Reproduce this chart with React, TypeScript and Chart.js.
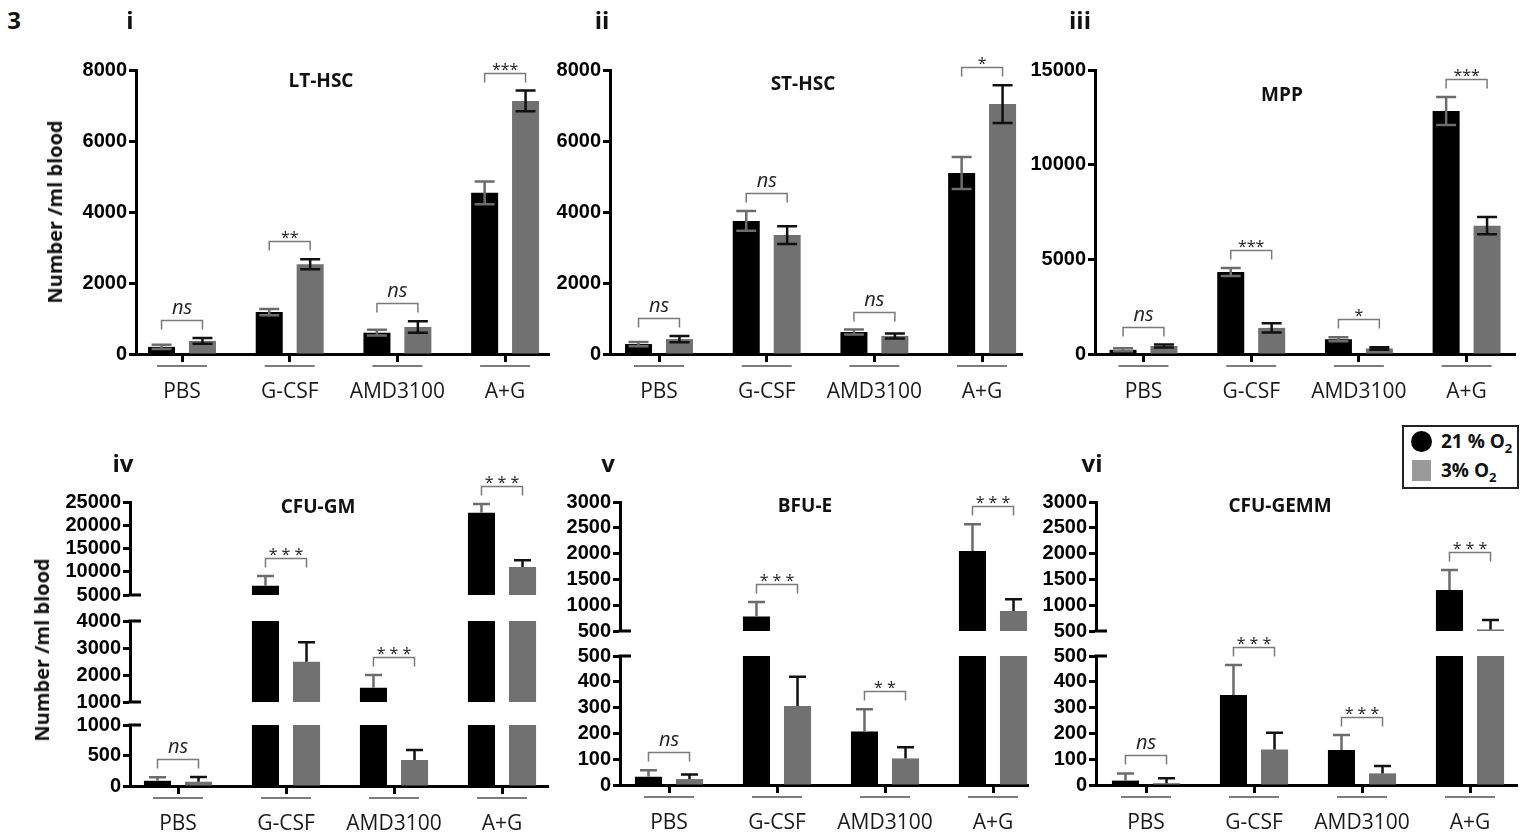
import React, { useEffect, useRef } from 'react';
import { Chart, registerables } from 'chart.js';

Chart.register(...registerables);

// ---------- DATA ----------
const categories = ['PBS', 'G-CSF', 'AMD3100', 'A+G'];
const seriesNames = ['21 % O₂', '3% O₂'];

// i  LT-HSC
const ltHsc21 = [200, 1180, 600, 4540];
const ltHsc21Err = [60, 90, 80, 320];
const ltHsc3 = [370, 2530, 760, 7130];
const ltHsc3Err = [80, 140, 160, 290];
const ltHscSig = ['ns', '**', 'ns', '***'];

// ii  ST-HSC
const stHsc21 = [280, 3750, 620, 5100];
const stHsc21Err = [60, 280, 70, 450];
const stHsc3 = [420, 3350, 510, 7040];
const stHsc3Err = [90, 250, 70, 530];
const stHscSig = ['ns', 'ns', 'ns', '*'];

// iii  MPP
const mpp21 = [220, 4330, 780, 12840];
const mpp21Err = [80, 210, 110, 740];
const mpp3 = [420, 1380, 290, 6780];
const mpp3Err = [80, 250, 70, 450];
const mppSig = ['ns', '***', '*', '***'];

// iv  CFU-GM
const cfuGm21 = [85, 7000, 1530, 22700];
const cfuGm21Err = [60, 2100, 470, 1870];
const cfuGm3 = [70, 2490, 426, 11000];
const cfuGm3Err = [78, 720, 165, 1500];
const cfuGmSig = ['ns', '* * *', '* * *', '* * *'];

// v  BFU-E
const bfuE21 = [32, 780, 207, 2050];
const bfuE21Err = [25, 280, 87, 520];
const bfuE3 = [23, 306, 103, 890];
const bfuE3Err = [18, 114, 43, 225];
const bfuESig = ['ns', '* * *', '* *', '* * *'];

// vi  CFU-GEMM
const cfuGemm21 = [17, 349, 136, 1295];
const cfuGemm21Err = [28, 116, 58, 387];
const cfuGemm3 = [7, 138, 45, 530];
const cfuGemm3Err = [19, 65, 29, 183];
const cfuGemmSig = ['ns', '* * *', '* * *', '* * *'];

// tick labels
const hscTicks = [0, 2000, 4000, 6000, 8000];
const mppTicks = [0, 5000, 10000, 15000];
const gmTicksLow = [0, 500, 1000];
const gmTicksMid = [1000, 2000, 3000, 4000];
const gmTicksHigh = [5000, 10000, 15000, 20000, 25000];
const smallTicksLow = [0, 100, 200, 300, 400, 500];
const smallTicksHigh = [500, 1000, 1500, 2000, 2500, 3000];

// ---------- STYLE / LAYOUT ----------
const BLACK = '#000000';
const GRAY = '#717171';
const ERR_ON_BLACK = '#6c6c6c';
const ERR_ON_GRAY = '#111111';
const BRACKET = '#7a7a7a';
const TICK_FONT = { family: "'Liberation Sans', Arial, sans-serif", weight: 'bold' as const, size: 20, lineHeight: 1 };
const CAT_FONT = { family: "'Open Sans', sans-serif", size: 21, weight: 'normal' as const, lineHeight: 1.2 };

const YW = 80;
const XH = 70;
const PAD_T = 60;
const PAD_R = 6;
const PAD_B = 16;

type Seg = { ticks: number[]; top: number; bottom: number };
type PanelSpec = {
  id: string;
  title: string;
  black: number[];
  blackErr: number[];
  gray: number[];
  grayErr: number[];
  sig: string[];
  twoSided: boolean;
  capW: number;
  axisX: number;
  xEnd: number;
  firstTick: number;
  spacing: number;
  segs: Seg[];
  titleX: number;
  titleY: number;
};

const panels: PanelSpec[] = [
  {
    id: 'i', title: 'LT-HSC', black: ltHsc21, blackErr: ltHsc21Err, gray: ltHsc3, grayErr: ltHsc3Err, sig: ltHscSig,
    twoSided: true, capW: 20, axisX: 136, xEnd: 549, firstTick: 182, spacing: 107.7,
    segs: [{ ticks: hscTicks, top: 70, bottom: 354 }], titleX: 321, titleY: 82,
  },
  {
    id: 'ii', title: 'ST-HSC', black: stHsc21, blackErr: stHsc21Err, gray: stHsc3, grayErr: stHsc3Err, sig: stHscSig,
    twoSided: true, capW: 20, axisX: 610, xEnd: 1022, firstTick: 659, spacing: 107.7,
    segs: [{ ticks: hscTicks, top: 70, bottom: 354 }], titleX: 803, titleY: 85,
  },
  {
    id: 'iii', title: 'MPP', black: mpp21, blackErr: mpp21Err, gray: mpp3, grayErr: mpp3Err, sig: mppSig,
    twoSided: true, capW: 20, axisX: 1095, xEnd: 1515, firstTick: 1143.5, spacing: 107.7,
    segs: [{ ticks: mppTicks, top: 70, bottom: 354 }], titleX: 1282, titleY: 96,
  },
  {
    id: 'iv', title: 'CFU-GM', black: cfuGm21, blackErr: cfuGm21Err, gray: cfuGm3, grayErr: cfuGm3Err, sig: cfuGmSig,
    twoSided: false, capW: 17, axisX: 130, xEnd: 548, firstTick: 178, spacing: 108,
    segs: [
      { ticks: gmTicksLow, top: 725, bottom: 786 },
      { ticks: gmTicksMid, top: 621, bottom: 702 },
      { ticks: gmTicksHigh, top: 502, bottom: 595 },
    ],
    titleX: 318, titleY: 508,
  },
  {
    id: 'v', title: 'BFU-E', black: bfuE21, blackErr: bfuE21Err, gray: bfuE3, grayErr: bfuE3Err, sig: bfuESig,
    twoSided: false, capW: 17, axisX: 620, xEnd: 1028, firstTick: 669, spacing: 108,
    segs: [
      { ticks: smallTicksLow, top: 656, bottom: 785 },
      { ticks: smallTicksHigh, top: 502, bottom: 631 },
    ],
    titleX: 805, titleY: 507,
  },
  {
    id: 'vi', title: 'CFU-GEMM', black: cfuGemm21, blackErr: cfuGemm21Err, gray: cfuGemm3, grayErr: cfuGemm3Err, sig: cfuGemmSig,
    twoSided: false, capW: 17, axisX: 1096, xEnd: 1517, firstTick: 1146, spacing: 108,
    segs: [
      { ticks: smallTicksLow, top: 656, bottom: 785 },
      { ticks: smallTicksHigh, top: 502, bottom: 631 },
    ],
    titleX: 1280, titleY: 507,
  },
];

const numerals = [
  { text: '3', x: 14, y: 20 },
  { text: 'i', x: 130, y: 20 },
  { text: 'ii', x: 602, y: 20 },
  { text: 'iii', x: 1080, y: 20 },
  { text: 'iv', x: 123, y: 463 },
  { text: 'v', x: 608, y: 463 },
  { text: 'vi', x: 1092, y: 463 },
];

const yTitles = [
  { x: 55, y: 212 },
  { x: 42, y: 650 },
];

// ---------- CHART ----------
function SegmentChart({ p, k }: { p: PanelSpec; k: number }) {
  const ref = useRef<HTMLCanvasElement>(null);
  const seg = p.segs[k];
  const isBottom = k === 0;
  const isTop = k === p.segs.length - 1;
  const left = p.axisX - YW;
  const top = seg.top - PAD_T;
  const width = Math.round(p.xEnd - left + PAD_R);
  const height = Math.round(seg.bottom - top + (isBottom ? XH : PAD_B));

  useEffect(() => {
    const canvas = ref.current;
    if (!canvas) return;
    const xMin = -(p.firstTick - p.axisX) / p.spacing;
    const xMax = (p.xEnd - p.firstTick) / p.spacing;
    const toPts = (vals: number[]) => vals.map((v, i) => ({ x: i, y: v }));
    const errSets = [
      { vals: p.black, errs: p.blackErr, color: ERR_ON_BLACK },
      { vals: p.gray, errs: p.grayErr, color: ERR_ON_GRAY },
    ];

    const errorBars = {
      id: 'errorBars',
      afterDatasetsDraw(chart: any) {
        const { ctx, chartArea: a } = chart;
        const ys = chart.scales.y;
        ctx.save();
        ctx.beginPath();
        ctx.rect(a.left, a.top - 1, a.right - a.left, a.bottom - a.top + 1);
        ctx.clip();
        errSets.forEach((s, di) => {
          const meta = chart.getDatasetMeta(di);
          meta.data.forEach((bar: any, i: number) => {
            const v = s.vals[i];
            const e = s.errs[i];
            const x = bar.x;
            const yTop = ys.getPixelForValue(v + e);
            const yBot = p.twoSided ? ys.getPixelForValue(v - e) : ys.getPixelForValue(v);
            ctx.strokeStyle = s.color;
            ctx.lineWidth = 2.5;
            ctx.beginPath();
            ctx.moveTo(x, yBot);
            ctx.lineTo(x, yTop);
            ctx.moveTo(x - p.capW / 2, yTop);
            ctx.lineTo(x + p.capW / 2, yTop);
            if (p.twoSided) {
              ctx.moveTo(x - p.capW / 2, yBot);
              ctx.lineTo(x + p.capW / 2, yBot);
            }
            ctx.stroke();
          });
        });
        ctx.restore();
      },
    };

    const annotations = {
      id: 'annotations',
      afterDraw(chart: any) {
        const { ctx, chartArea: a } = chart;
        const xs = chart.scales.x;
        const ys = chart.scales.y;
        ctx.save();
        // axis-break caps
        ctx.strokeStyle = '#000';
        ctx.lineWidth = 3;
        if (!isBottom) {
          ctx.beginPath();
          ctx.moveTo(a.left - 1.5, a.bottom);
          ctx.lineTo(a.left + 11, a.bottom);
          ctx.stroke();
        }
        if (!isTop) {
          ctx.beginPath();
          ctx.moveTo(a.left - 1.5, a.top);
          ctx.lineTo(a.left + 11, a.top);
          ctx.stroke();
        }
        // group underlines
        if (isBottom) {
          ctx.strokeStyle = '#7d7d7d';
          ctx.lineWidth = 2;
          categories.forEach((_, i) => {
            const px = xs.getPixelForValue(i);
            ctx.beginPath();
            ctx.moveTo(px - 25, a.bottom + 12);
            ctx.lineTo(px + 25, a.bottom + 12);
            ctx.stroke();
          });
        }
        // title
        if (isTop) {
          ctx.fillStyle = '#111';
          ctx.font = "bold 19px 'Open Sans', sans-serif";
          ctx.textAlign = 'center';
          ctx.textBaseline = 'middle';
          ctx.fillText(p.title, p.titleX - left, p.titleY - top);
        }
        // significance brackets
        const m0 = chart.getDatasetMeta(0);
        const m1 = chart.getDatasetMeta(1);
        categories.forEach((_, i) => {
          const t = Math.max(p.black[i] + p.blackErr[i], p.gray[i] + p.grayErr[i]);
          let sk = 0;
          p.segs.forEach((s, j) => {
            if (t >= s.ticks[0]) sk = j;
          });
          if (sk !== k) return;
          const yl = Math.round(ys.getPixelForValue(t) - 18) + 0.5;
          const x0 = m0.data[i].x;
          const x1 = m1.data[i].x;
          ctx.strokeStyle = BRACKET;
          ctx.lineWidth = 1.5;
          ctx.beginPath();
          ctx.moveTo(x0, yl + 9);
          ctx.lineTo(x0, yl);
          ctx.lineTo(x1, yl);
          ctx.lineTo(x1, yl + 9);
          ctx.stroke();
          ctx.fillStyle = '#222';
          ctx.textAlign = 'center';
          ctx.textBaseline = 'alphabetic';
          const label = p.sig[i];
          if (label === 'ns') {
            ctx.font = "italic 20px 'Open Sans', sans-serif";
            ctx.fillText(label, (x0 + x1) / 2, yl - 7);
          } else {
            ctx.font = "16px 'Open Sans', sans-serif";
            ctx.fillText(label, (x0 + x1) / 2, yl + 1);
          }
        });
        ctx.restore();
      },
    };

    const chart = new Chart(canvas, {
      type: 'bar',
      data: {
        datasets: [
          { label: seriesNames[0], data: toPts(p.black) as any, backgroundColor: BLACK },
          { label: seriesNames[1], data: toPts(p.gray) as any, backgroundColor: GRAY },
        ],
      },
      options: {
        animation: false,
        responsive: false,
        devicePixelRatio: 1,
        events: [],
        layout: { padding: { left: 0, right: PAD_R, top: PAD_T, bottom: isBottom ? 0 : PAD_B } },
        datasets: { bar: { clip: 0 as any, categoryPercentage: 0.76, barPercentage: 0.66, borderWidth: 0 } },
        plugins: { legend: { display: false }, tooltip: { enabled: false }, title: { display: false } },
        scales: {
          x: {
            type: 'linear',
            min: xMin,
            max: xMax,
            offset: false,
            display: isBottom,
            afterBuildTicks: (s: any) => {
              s.ticks = categories.map((_, i) => ({ value: i }));
            },
            afterFit: (s: any) => {
              s.height = isBottom ? XH : 0;
            },
            grid: {
              display: true,
              offset: false,
              drawOnChartArea: false,
              drawTicks: true,
              tickLength: 8,
              tickWidth: 3,
              tickColor: '#000',
              color: '#000',
            },
            border: { display: true, color: '#000', width: 3 },
            ticks: {
              autoSkip: false,
              maxRotation: 0,
              minRotation: 0,
              padding: 17,
              color: '#1a1a1a',
              font: CAT_FONT,
              callback: (v: any) => categories[Math.round(Number(v))] ?? '',
            },
          } as any,
          y: {
            type: 'linear',
            min: seg.ticks[0],
            max: seg.ticks[seg.ticks.length - 1],
            beginAtZero: false,
            afterBuildTicks: (s: any) => {
              s.ticks = seg.ticks.map((v) => ({ value: v }));
            },
            afterFit: (s: any) => {
              s.width = YW;
            },
            grid: {
              display: true,
              drawOnChartArea: false,
              drawTicks: true,
              tickLength: 7,
              tickWidth: 3,
              tickColor: '#000',
              color: '#000',
            },
            border: { display: true, color: '#000', width: 3 },
            ticks: {
              autoSkip: false,
              padding: 2,
              color: '#000',
              font: TICK_FONT,
              callback: (v: any) => String(v),
            },
          } as any,
        },
      },
      plugins: [errorBars, annotations],
    });
    return () => chart.destroy();
  }, []);

  return (
    <canvas
      ref={ref}
      width={width}
      height={height}
      style={{ position: 'absolute', left, top, width, height }}
    />
  );
}

function Legend() {
  const base = { position: 'absolute' as const };
  const textStyle = {
    ...base,
    left: 37,
    font: "bold 19px 'Open Sans', sans-serif",
    color: '#111',
    whiteSpace: 'nowrap' as const,
    lineHeight: '22px',
  };
  const subStyle = { fontSize: 13, verticalAlign: -5, lineHeight: 0 } as any;
  return (
    <div
      style={{
        ...base,
        left: 1402,
        top: 425,
        width: 117,
        height: 64,
        border: '2px solid #222',
        boxSizing: 'border-box',
        background: '#fff',
      }}
    >
      <div style={{ ...base, left: 7, top: 4, width: 21, height: 21, borderRadius: '50%', background: BLACK }} />
      <div style={{ ...textStyle, top: 3 }}>
        {seriesNames[0].slice(0, -1)}
        <span style={subStyle}>2</span>
      </div>
      <div style={{ ...base, left: 8, top: 33, width: 19, height: 21, background: '#9a9a9a' }} />
      <div style={{ ...textStyle, top: 32 }}>
        {seriesNames[1].slice(0, -1)}
        <span style={subStyle}>2</span>
      </div>
    </div>
  );
}

export default function App() {
  useEffect(() => {
    document.body.style.margin = '0';
  }, []);
  return (
    <div
      style={{
        position: 'absolute',
        left: 0,
        top: 0,
        width: 1524,
        height: 834,
        overflow: 'hidden',
        background: '#fff',
        fontFamily: "'Open Sans', sans-serif",
      }}
    >
      {panels.map((p) => p.segs.map((_, k) => <SegmentChart key={p.id + '-' + k} p={p} k={k} />))}
      {numerals.map((n) => (
        <div
          key={n.text}
          style={{
            position: 'absolute',
            left: n.x,
            top: n.y,
            transform: 'translate(-50%, -50%)',
            font: "bold 24px 'Open Sans', sans-serif",
            lineHeight: 1,
            color: '#111',
          }}
        >
          {n.text}
        </div>
      ))}
      {yTitles.map((t, i) => (
        <div
          key={i}
          style={{
            position: 'absolute',
            left: t.x,
            top: t.y,
            transform: 'translate(-50%, -50%) rotate(-90deg)',
            font: "bold 20px 'Open Sans', sans-serif",
            lineHeight: 1,
            whiteSpace: 'nowrap',
            color: '#111',
          }}
        >
          Number /ml blood
        </div>
      ))}
      <Legend />
    </div>
  );
}
